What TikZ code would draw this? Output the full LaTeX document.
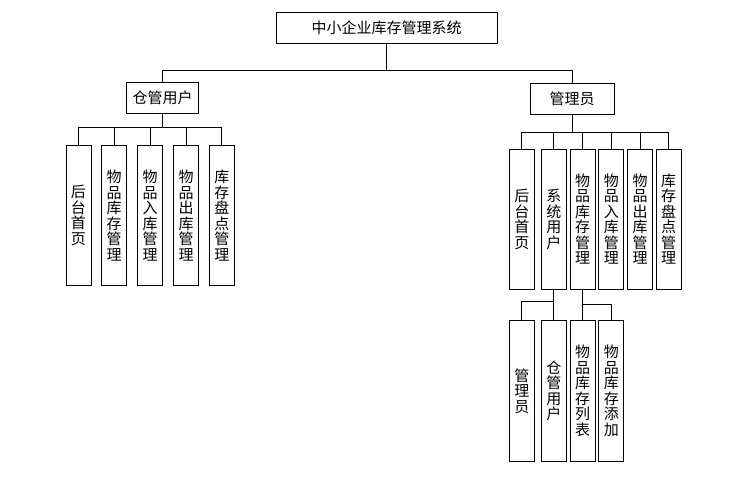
\documentclass[tikz,border=0pt]{standalone}
\usepackage{fontspec}
\newfontfamily\cjk{Noto Sans CJK SC}
\usepackage{tikz}
\tikzset{box/.style={draw, line width=0.8, inner sep=0, align=center,
  font=\cjk\fontsize{15}{15.5}\selectfont}}
\tikzset{tall/.style={box, minimum width=25, minimum height=140.5}}

\begin{document}
\begin{tikzpicture}[x=1pt, y=-1pt, line width=0.8]
\useasboundingbox (0,0) rectangle (729,483);

\node[box, minimum width=221, minimum height=31] (root) at (386.5,27.8) {中小企业库存管理系统};
\node[box, minimum width=72, minimum height=31] (cang) at (162.7,98) {仓管用户};
\node[box, minimum width=84, minimum height=31] (mgr) at (572,98.8) {管理员};

\node[tall] (l1) at (78.4,215.5) {后\\台\\首\\页};
\node[tall] (l2) at (114.2,215.5) {物\\品\\库\\存\\管\\理};
\node[tall] (l3) at (150,215.5) {物\\品\\入\\库\\管\\理};
\node[tall] (l4) at (186,215.5) {物\\品\\出\\库\\管\\理};
\node[tall] (l5) at (221.8,215.5) {库\\存\\盘\\点\\管\\理};

\node[tall] (r1) at (521.8,219.2) {后\\台\\首\\页};
\node[tall] (r2) at (553.8,219.2) {系\\统\\用\\户};
\node[tall] (r3) at (582.7,219.2) {物\\品\\库\\存\\管\\理};
\node[tall] (r4) at (611.3,219.2) {物\\品\\入\\库\\管\\理};
\node[tall] (r5) at (640,219.2) {物\\品\\出\\库\\管\\理};
\node[tall] (r6) at (668.5,219.2) {库\\存\\盘\\点\\管\\理};

\node[tall] (s1) at (521.8,390.8) {管\\理\\员};
\node[tall] (s2) at (553.8,390.8) {仓\\管\\用\\户};
\node[tall] (s3) at (582.7,390.8) {物\\品\\库\\存\\列\\表};
\node[tall] (s4) at (611.3,390.8) {物\\品\\库\\存\\添\\加};

\draw (root.south) -- ++(0,26.5) -| (cang.north);
\draw (root.south) -- ++(0,26.5) -| (mgr.north);

\foreach \n in {l1,l2,l3,l4,l5}
  \draw (cang.south) -- ++(0,13.5) -| (\n.north);
\foreach \n in {r1,r2,r3,r4,r5,r6}
  \draw (mgr.south) -- ++(0,17.5) -| (\n.north);

\draw (r2.south) -- (s2.north);
\draw (r2.south) -- ++(0,11.5) -| (s1.north);
\draw (r3.south) -- (s3.north);
\draw (r3.south) -- ++(0,14.5) -| (s4.north);

\end{tikzpicture}
\end{document}
